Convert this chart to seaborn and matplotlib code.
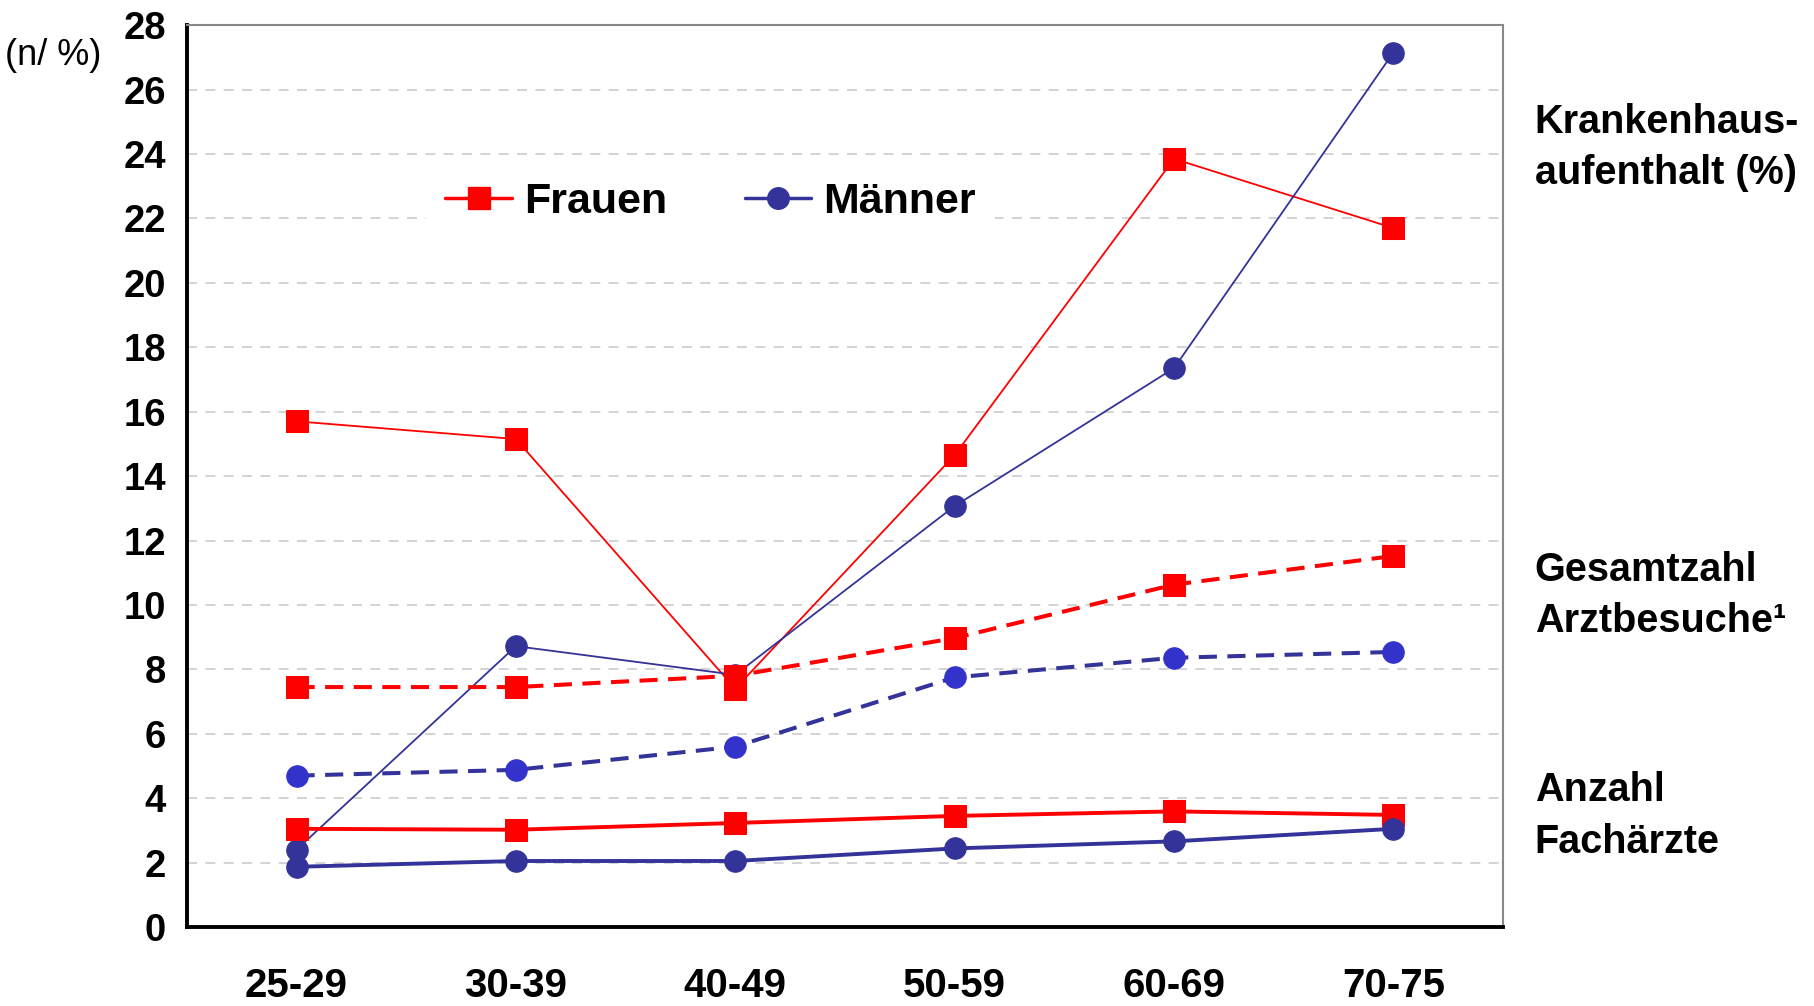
#!/usr/bin/env python3
# -*- coding: utf-8 -*-
"""
Krankenhausaufenthalt, Arztbesuche und Fachärzte nach Altersgruppe und Geschlecht
"""

import matplotlib.pyplot as plt
from matplotlib.lines import Line2D
import matplotlib.transforms as mtransforms
import seaborn as sns
import pandas as pd

# Daten
altersgruppen = ['25-29', '30-39', '40-49', '50-59', '60-69', '70-75']

kh_frauen = [15.7, 15.15, 7.4, 14.65, 23.85, 21.7]
kh_maenner = [2.4, 8.72, 7.83, 13.07, 17.35, 27.15]

arzt_frauen = [7.45, 7.45, 7.8, 8.97, 10.63, 11.52]
arzt_maenner = [4.7, 4.88, 5.6, 7.75, 8.36, 8.54]

fach_frauen = [3.05, 3.02, 3.23, 3.45, 3.59, 3.48]
fach_maenner = [1.87, 2.05, 2.05, 2.44, 2.66, 3.05]

y_ticks = list(range(0, 29, 2))

ROT = '#FF0000'
NAVY = '#333399'
BLAU = '#3333CC'

sns.set_style('white')
plt.rcParams['font.family'] = ['Liberation Sans', 'DejaVu Sans']
plt.rcParams['text.color'] = 'black'
plt.rcParams['xtick.color'] = 'black'
plt.rcParams['ytick.color'] = 'black'

fig = plt.figure(figsize=(18.14, 10.06), dpi=100)
ax = fig.add_axes([0.103, 0.0785, 0.7256, 0.8965])

# (Serie, Farbe, Marker-Farbe, Marker, Linienbreite, Linienstil)
serien = [
    (kh_frauen, ROT, ROT, 's', 1.3, '-'),
    (kh_maenner, NAVY, NAVY, 'o', 1.3, '-'),
    (arzt_frauen, ROT, ROT, 's', 2.9, (0, (4.5, 2.6))),
    (arzt_maenner, NAVY, BLAU, 'o', 2.9, (0, (4.5, 2.6))),
    (fach_frauen, ROT, ROT, 's', 2.8, '-'),
    (fach_maenner, NAVY, NAVY, 'o', 2.8, '-'),
]

for werte, farbe, mfarbe, marker, lw, ls in serien:
    df = pd.DataFrame({'alter': altersgruppen, 'wert': werte})
    sns.lineplot(data=df, x='alter', y='wert', ax=ax, color=farbe,
                 linewidth=lw, linestyle=ls, marker=marker, markersize=15.5,
                 markerfacecolor=mfarbe, markeredgecolor=mfarbe, zorder=3)

# Achsen
ax.set_xlim(-0.5, 5.5)
ax.set_ylim(0, 28)
ax.set_yticks(y_ticks)
ax.set_yticklabels([str(t) for t in y_ticks], fontsize=27.5, fontweight='bold')
ax.set_xticks(range(len(altersgruppen)))
ax.set_xticklabels(altersgruppen, fontsize=29, fontweight='bold')
ax.set_xticks([i + 0.5 for i in range(-1, len(altersgruppen))], minor=True)
ax.tick_params(axis='x', which='major', length=0, pad=29)
ax.tick_params(axis='x', which='minor', length=10, width=2.5, color='black', direction='out')
ax.tick_params(axis='y', which='major', length=10, width=2.5, color='black', direction='out', pad=5)
ax.set_xlabel('')
ax.set_ylabel('')

ax.grid(axis='y', color='#cccccc', linestyle=(0, (6, 5)), linewidth=1.2)
ax.grid(axis='x', visible=False)

for seite in ['left', 'bottom']:
    ax.spines[seite].set_color('black')
    ax.spines[seite].set_linewidth(2.8)
for seite in ['top', 'right']:
    ax.spines[seite].set_color('#888888')
    ax.spines[seite].set_linewidth(1.5)
    ax.spines[seite].set_visible(True)

# Legende
handles = [
    Line2D([], [], color=ROT, marker='s', markersize=15.5, linewidth=2.5),
    Line2D([], [], color=NAVY, marker='o', markersize=15.5, linewidth=2.5),
]
leg = ax.legend(handles, ['Frauen', 'Männer'], ncol=2, loc='center',
                bbox_to_anchor=(0.398, 0.804), frameon=True, framealpha=1,
                prop={'size': 31, 'weight': 'bold'}, handlelength=1.55,
                columnspacing=1.8, handletextpad=0.28, borderpad=0.45,
                borderaxespad=0)
leg.get_frame().set_facecolor('white')
leg.get_frame().set_edgecolor('none')
leg.set_zorder(2)

# Beschriftungen rechts
trans = mtransforms.blended_transform_factory(fig.transFigure, ax.transData)
for text, yy in [('Krankenhaus-\naufenthalt (%)', 24.2),
                 ('Gesamtzahl\nArztbesuche¹', 10.3),
                 ('Anzahl\nFachärzte', 3.45)]:
    ax.text(0.846, yy, text, transform=trans, fontsize=28.5, fontweight='bold',
            va='center', ha='left', linespacing=1.45, clip_on=False)

fig.text(0.003, 0.945, '(n/ %)', fontsize=26, ha='left', va='center')

plt.savefig('out.png', dpi=100, facecolor='white')
plt.close()
